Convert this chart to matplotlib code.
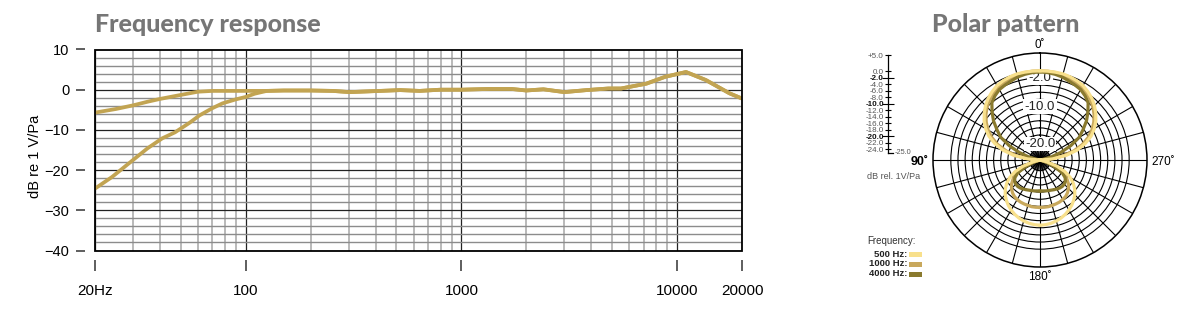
import numpy as np
import matplotlib
matplotlib.use("Agg")
import matplotlib.pyplot as plt
from matplotlib.patches import Rectangle
from matplotlib.ticker import LogLocator, NullFormatter

plt.rcParams["font.family"] = ["Liberation Sans", "DejaVu Sans"]

# --- frequency response data ---
# low end without low-cut
freq_flat = [20, 25, 30, 35, 40, 50, 60, 70, 80, 100, 125]
resp_flat = [-5.7, -4.8, -3.9, -3.0, -2.3, -1.3, -0.5, -0.3, -0.3, -0.3, -0.3]
# low end with low-cut
freq_cut = [20, 24, 30, 35, 41, 47, 55, 61, 70, 78, 90, 100, 110, 125]
resp_cut = [-24.6, -21.7, -17.5, -14.6, -12.1, -10.6, -8.2, -6.4, -4.6, -3.4,
            -2.4, -1.8, -1.0, -0.3]
# shared part above ~125 Hz
freq_common = [125, 150, 200, 253, 303, 420, 520, 640, 800, 1000, 1360, 1700,
               2000, 2400, 3000, 3800, 4800, 5500, 7200, 8800, 11000, 13600,
               17500, 20000]
resp_common = [-0.3, -0.2, -0.2, -0.3, -0.6, -0.3, -0.1, -0.3, 0.0, 0.0, 0.2,
               0.2, -0.2, 0.1, -0.6, -0.1, 0.3, 0.3, 1.5, 3.2, 4.4, 2.4, -0.9,
               -2.2]

x_ticks = [20, 100, 1000, 10000, 20000]
x_tick_labels = ["20Hz", "100", "1000", "10000", "20000"]

# --- polar pattern data, dB at 0..180 deg (pattern is symmetric) ---
polar_angles = np.arange(0, 181, 5)
polar_500 = [0, 0, 0, 0, -0.2, -0.5, -0.9, -1.6, -2.4, -3.4, -4.6, -5.9, -7.4,
             -9.2, -11.5, -14.2, -17.5, -21.5, -25, -25, -25, -23, -20, -17.3,
             -15.2, -13.6, -12.3, -11.2, -10.3, -9.5, -8.8, -8.2, -7.7, -7.3,
             -7.0, -6.8, -6.7]
polar_1000 = [0, 0, -0.1, -0.3, -0.6, -1.0, -1.5, -2.2, -3.0, -4.0, -5.2, -6.6,
              -8.2, -10.1, -12.4, -15.2, -18.6, -22.5, -25, -25, -25, -24,
              -21.5, -19.2, -17.3, -15.8, -14.6, -13.7, -13.0, -12.5, -12.2,
              -12.0, -11.9, -11.8, -11.7, -11.7, -11.7]
polar_4000 = [-0.3, -0.4, -0.6, -0.9, -1.4, -1.8, -2.2, -3.0, -4.0, -6.0, -8.0,
              -10.3, -12.3, -15.5, -18.8, -21.8, -24.5, -25, -25, -25, -25,
              -25, -23, -20.5, -17.8, -16.4, -15.7, -15.4, -15.3, -15.4, -15.6,
              -15.8, -16.0, -16.1, -16.2, -16.3, -16.3]
polar_labels = ["500 Hz:", "1000 Hz:", "4000 Hz:"]
polar_colors = ["#f8e08c", "#c8a85c", "#8a7a2e"]

scale_ticks = [5, 0, -2, -4, -6, -8, -10, -12, -14, -16, -18, -20, -22, -24]
scale_bold = [-2, -10, -20]

gold = "#c2a452"
W, H = 1200, 318


def fx(px):
    return px / W


def fy(py):
    return 1 - py / H


fig = plt.figure(figsize=(12, 3.18), dpi=100)

# ---------------- frequency response ----------------
ax = fig.add_axes([fx(95), fy(250.5), 647 / W, 201 / H])
ax.set_xscale("log")
ax.plot(freq_flat + freq_common, resp_flat + resp_common, color=gold, lw=2.7,
        solid_capstyle="round", zorder=3)
ax.plot(freq_cut + freq_common, resp_cut + resp_common, color=gold, lw=2.7,
        solid_capstyle="round", zorder=3)
ax.set_xlim(20, 20000)
ax.set_ylim(-40, 10)

ax.set_xticks(x_ticks)
ax.set_xticklabels(x_tick_labels)
ax.xaxis.set_minor_locator(LogLocator(base=10, subs=np.arange(2, 10), numticks=30))
ax.xaxis.set_minor_formatter(NullFormatter())
ax.set_yticks(np.arange(-40, 11, 10))
ax.set_yticks(np.arange(-40, 11, 2), minor=True)
ax.tick_params(which="minor", length=0)
ax.tick_params(axis="y", which="major", direction="out", length=6.5, width=1.1,
               color="#333333", pad=5, labelsize=10.5)
ax.tick_params(axis="x", which="major", direction="out", length=8, width=1.1,
               color="#333333", pad=9, labelsize=11)

ax.set_axisbelow(True)
ax.grid(which="minor", axis="x", color="#b4b4b4", lw=1.3)
ax.grid(which="minor", axis="y", color="#8c8c8c", lw=1.0)
ax.grid(which="major", axis="both", color="#222222", lw=0.9)

for side in ["left", "bottom"]:
    ax.spines[side].set_position(("outward", 7))
for side in ax.spines:
    ax.spines[side].set_visible(False)
ax.add_patch(Rectangle((0, 0), 1, 1, transform=ax.transAxes, fill=False,
                       ec="black", lw=1.3, clip_on=False, zorder=4))

fig.text(fx(35), fy(156), "dB re 1 V/Pa", rotation=90, ha="center",
         va="center", fontsize=10.5)
fig.text(fx(95), fy(32.3), "Frequency response", family="Lato",
         weight="black", fontsize=18, color="#767676", va="baseline")

# ---------------- polar pattern ----------------
fig.text(fx(932), fy(31.7), "Polar pattern", family="Lato", weight="black",
         fontsize=18, color="#767676", va="baseline")

axp = fig.add_axes([fx(933), fy(267), 214 / W, 214 / H], projection="polar")
axp.set_theta_zero_location("N")
axp.set_theta_direction(1)
axp.set_ylim(-25, 5)
axp.set_yticks(np.arange(-24, 1, 2))
axp.set_yticklabels([])
axp.set_xticks(np.deg2rad(np.arange(0, 360, 15)))
axp.set_xticklabels([])
axp.tick_params(length=0)
axp.grid(True, color="black", lw=0.8)
axp.spines["polar"].set_linewidth(1.1)

# dense spokes near the centre
for a in np.arange(0, 360, 5):
    axp.plot([np.deg2rad(a)] * 2, [-25, -22], color="black", lw=0.5, zorder=1)

th = np.deg2rad(polar_angles)
for vals, col in [(polar_1000, polar_colors[1]), (polar_4000, polar_colors[2]),
                  (polar_500, polar_colors[0])]:
    axp.plot(th, vals, color=col, lw=2.3, zorder=4)
    axp.plot(-th, vals, color=col, lw=2.3, zorder=4)

for r, lab in [(-2, "-2.0"), (-10, "-10.0"), (-20.5, "-20.0")]:
    axp.text(0, r, lab, ha="center", va="center", fontsize=9.5, color="#222222",
             zorder=3, bbox=dict(boxstyle="square,pad=0.1", fc="white",
                                 ec="none"))

fig.text(fx(1040), fy(45), "0\u02da", ha="center", va="center", fontsize=8.5)
fig.text(fx(929), fy(161.5), "90\u02da", ha="right", va="center", fontsize=9,
         weight="bold")
fig.text(fx(1151), fy(161.5), "270\u02da", ha="left", va="center", fontsize=8.5)
fig.text(fx(1040), fy(277), "180\u02da", ha="center", va="center", fontsize=8.5)

# dB scale on the left
axs = fig.add_axes([fx(888), fy(152.7), 5 / W, 97.7 / H])
axs.set_ylim(-25, 5)
axs.set_xlim(0, 1)
axs.set_yticks(scale_ticks)
axs.set_yticklabels(["+5.0" if t > 0 else "%.1f" % t for t in scale_ticks])
axs.set_xticks([])
axs.tick_params(axis="y", direction="inout", length=4, width=0.8, pad=1,
                labelsize=5.8, labelcolor="#555555")
for t, tick, lab in zip(scale_ticks, axs.yaxis.get_major_ticks(),
                        axs.get_yticklabels()):
    if t in scale_bold:
        tick.tick1line.set_markersize(8)
        lab.set_fontweight("bold")
        lab.set_color("#111111")
for side in ["top", "right"]:
    axs.spines[side].set_visible(False)
axs.spines["left"].set_linewidth(0.9)
axs.spines["bottom"].set_linewidth(0.9)
axs.patch.set_visible(False)
fig.text(fx(895), fy(152.7), "-25.0", ha="left", va="center", fontsize=5.3,
         color="#555555")
fig.text(fx(867), fy(176.7), "dB rel. 1V/Pa", ha="left", va="center",
         fontsize=6.5, color="#555555")

# legend
fig.text(fx(867), fy(240.7), "Frequency:", ha="left", va="center", fontsize=7,
         color="#333333")
for i, (lab, col) in enumerate(zip(polar_labels, polar_colors)):
    yy = [254.3, 264.0, 274.0][i]
    fig.text(fx(907.5), fy(yy), lab, ha="right", va="center", fontsize=6.8,
             weight="bold", color="#222222")
    fig.add_artist(Rectangle((fx(909), fy(yy + 2.5)), 12.7 / W, 5 / H,
                             transform=fig.transFigure, fc=col, ec="none"))

fig.savefig("out.png", dpi=100)
